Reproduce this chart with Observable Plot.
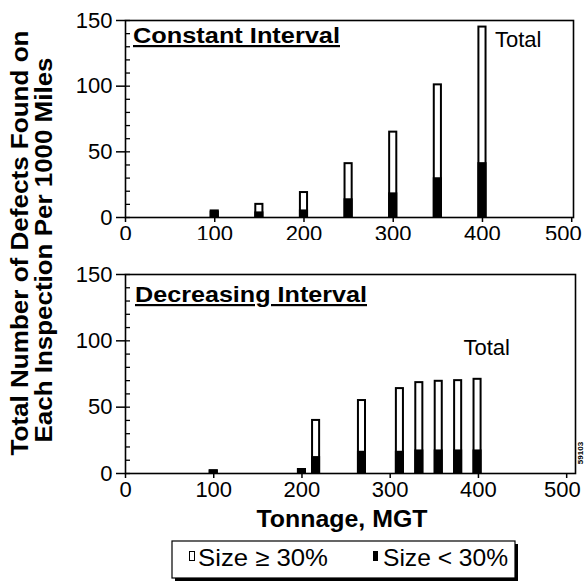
<!DOCTYPE html>
<html>
<head>
<meta charset="utf-8">
<script src="https://cdn.jsdelivr.net/npm/d3@7"></script>
<script src="https://cdn.jsdelivr.net/npm/@observablehq/plot@0.6"></script>
<style>
  html, body { margin: 0; padding: 0; background: white; }
  #wrap { position: relative; width: 586px; height: 587px; overflow: hidden; background: white;
          font-family: "Liberation Sans", Arial, Helvetica, sans-serif; }
  #wrap > * { position: absolute; left: 0; }
  #overlay { pointer-events: none; }
</style>
</head>
<body>
<div id="wrap"></div>
<script>
// ---- Data ----
const xTicks = [0, 100, 200, 300, 400, 500];
const xLabelTicks = [0, 100, 200, 300, 400];
const xLastTick = [500];
const yTicks = [0, 50, 100, 150];
const yMinorTicks = [0, 10, 20, 30, 40, 50, 60, 70, 80, 90, 100, 110, 120, 130, 140, 150];

// Constant Interval panel
const tonnageConst = [100, 150, 200, 250, 300, 350, 400];
const totalConst   = [5, 10, 19, 41, 65, 101, 145];
const smallConst   = [4, 3.5, 5, 13.5, 18, 29.5, 41];

// Decreasing Interval panel
const tonnageDecr = [100, 200, 216, 268, 311, 333, 355, 377, 399];
const totalDecr   = [2, 3, 40, 55, 64, 68.5, 69.5, 70, 71];
const smallDecr   = [2, 3, 12, 16, 16, 17, 17, 17, 17];

const panelTitles = ["Constant Interval", "Decreasing Interval"];
const totalLabel = "Total";
const yTitleLines = ["Total Number of Defects Found on", "Each Inspection Per 1000 Miles"];
const xTitle = "Tonnage, MGT";
const legendLabels = ["Size \u2265 30%", "Size < 30%"];
const figureId = "59103";

const FONT = '"Liberation Sans", Arial, Helvetica, sans-serif';
const halfWidth = 4; // half bar width in tonnage units

function rows(t, tot, sm) { return t.map((v, i) => ({t: v, total: tot[i], small: sm[i]})); }

function panel({data, xDomain, height, mt, mb, ml, mr, totalPos, lastDx}) {
  const width = 586;
  const frameW = width - ml - mr;
  return Plot.plot({
    width, height,
    marginTop: mt, marginBottom: mb, marginLeft: ml, marginRight: mr,
    x: {domain: xDomain},
    y: {domain: [0, 150]},
    style: {fontFamily: FONT, fontSize: "22px", color: "black", background: "white", overflow: "visible"},
    marks: [
      Plot.rectY(data, {x1: d => d.t - halfWidth, x2: d => d.t + halfWidth, y1: 0, y2: "total",
                        fill: "white", stroke: "black", strokeWidth: 2}),
      Plot.rectY(data, {x1: d => d.t - halfWidth, x2: d => d.t + halfWidth, y1: 0, y2: "small",
                        fill: "black", stroke: "black", strokeWidth: 2}),
      Plot.tickY(yMinorTicks, {y: d => d, stroke: "black", strokeWidth: 1.3, insetRight: frameW - 5}),
      Plot.axisY({ticks: yTicks, tickSize: 9, tickPadding: 4, fontSize: 22, label: null, strokeWidth: 1.5}),
      Plot.axisX({ticks: xTicks, tickSize: 5, tickFormat: () => "", label: null, strokeWidth: 1.5}),
      Plot.axisX({ticks: xLabelTicks, tickSize: 0, tickPadding: 8, fontSize: 22, label: null}),
      Plot.axisX({ticks: xLastTick, tickSize: 0, tickPadding: 8, fontSize: 22, label: null,
                  textAnchor: "end", dx: lastDx}),
      Plot.frame({stroke: "black", strokeWidth: 1.6}),
      Plot.text([totalLabel], {x: totalPos[0], y: totalPos[1], text: d => d, textAnchor: "start",
                               lineAnchor: "bottom", fontSize: 22, fill: "black"})
    ]
  });
}

const wrap = document.getElementById("wrap");

const topPanel = panel({
  data: rows(tonnageConst, totalConst, smallConst),
  xDomain: [0, 502], height: 250, mt: 20, mb: 33, ml: 125, mr: 13,
  totalPos: [414, 130], lastDx: 10
});
topPanel.style.top = "0px";
wrap.appendChild(topPanel);

const bottomPanel = panel({
  data: rows(tonnageDecr, totalDecr, smallDecr),
  xDomain: [0, 510], height: 270, mt: 34, mb: 37, ml: 125, mr: 11,
  totalPos: [383, 89], lastDx: 14
});
bottomPanel.style.top = "240px";
wrap.appendChild(bottomPanel);

// ---- Overlay: titles, axis titles, legend ----
const ns = "http://www.w3.org/2000/svg";
const ov = document.createElementNS(ns, "svg");
ov.setAttribute("id", "overlay");
ov.setAttribute("width", 586);
ov.setAttribute("height", 587);
ov.style.top = "0px";
ov.style.fontFamily = FONT;
wrap.appendChild(ov);

function txt(str, attrs) {
  const t = document.createElementNS(ns, "text");
  for (const k in attrs) t.setAttribute(k, attrs[k]);
  t.textContent = str;
  ov.appendChild(t);
  return t;
}
function rect(attrs) {
  const r = document.createElementNS(ns, "rect");
  for (const k in attrs) r.setAttribute(k, attrs[k]);
  ov.appendChild(r);
  return r;
}

// panel titles
txt(panelTitles[0], {x: 133, y: 43, "font-size": 22, "font-weight": "bold", textLength: 207,
  lengthAdjust: "spacingAndGlyphs", style: "text-decoration: underline"});
txt(panelTitles[1], {x: 135, y: 302, "font-size": 22, "font-weight": "bold", textLength: 232,
  lengthAdjust: "spacingAndGlyphs", style: "text-decoration: underline"});

// y axis title (two lines)
txt(yTitleLines[0], {transform: "translate(28,243) rotate(-90)", "text-anchor": "middle",
  "font-size": 23, "font-weight": "bold", textLength: 425, lengthAdjust: "spacingAndGlyphs"});
txt(yTitleLines[1], {transform: "translate(52,250) rotate(-90)", "text-anchor": "middle",
  "font-size": 23, "font-weight": "bold", textLength: 385, lengthAdjust: "spacingAndGlyphs"});

// x axis title
txt(xTitle, {x: 342, y: 527, "text-anchor": "middle", "font-size": 23, "font-weight": "bold",
  textLength: 171, lengthAdjust: "spacingAndGlyphs"});

// figure id
txt(figureId, {transform: "translate(583,453) rotate(-90)", "text-anchor": "middle",
  "font-size": 8, "font-weight": "bold"});

// legend
rect({x: 175, y: 544, width: 343, height: 37, fill: "black"});
rect({x: 172, y: 541, width: 343, height: 37, fill: "white", stroke: "black", "stroke-width": 1.2});
rect({x: 189.5, y: 551.5, width: 5, height: 9, fill: "white", stroke: "black", "stroke-width": 1});
txt(legendLabels[0], {x: 198, y: 566, "font-size": 24, textLength: 130, lengthAdjust: "spacingAndGlyphs"});
rect({x: 373, y: 551, width: 5, height: 10, fill: "black"});
txt(legendLabels[1], {x: 383, y: 566, "font-size": 24, textLength: 125, lengthAdjust: "spacingAndGlyphs"});
</script>
</body>
</html>
